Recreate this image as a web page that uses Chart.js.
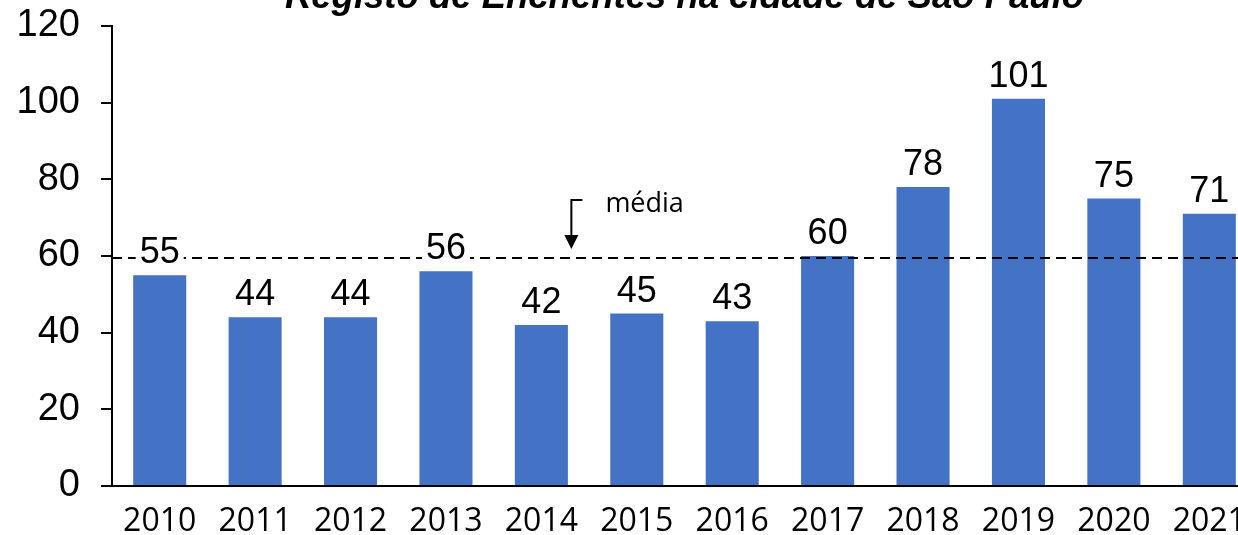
<!DOCTYPE html>
<html>
<head>
<meta charset="utf-8">
<script src="https://cdn.jsdelivr.net/npm/chart.js@4/dist/chart.umd.min.js"></script>
<style>
  html, body { margin: 0; padding: 0; background: #fff; overflow: hidden; }
  #wrap { width: 1260px; height: 535px; position: relative; }
</style>
</head>
<body>
<div id="wrap"><canvas id="canvasOne"></canvas></div>
<script>
// dados
var anos = ['2010', '2011', '2012', '2013', '2014', '2015', '2016', '2017', '2018', '2019', '2020', '2021'];
var enchentes = [55, 44, 44, 56, 42, 45, 43, 60, 78, 101, 75, 71];
var yTicks = [0, 20, 40, 60, 80, 100, 120];
var titulo = 'Registo de Enchentes na cidade de São Paulo';
var rotuloMedia = 'média';

var media = enchentes.reduce(function(a, b) { return a + b; }, 0) / enchentes.length;

var extras = {
    id: 'extras',
    afterDatasetsDraw: function(chart) {
        var ctx = chart.ctx;
        var x = chart.scales.x, y = chart.scales.y;
        var area = chart.chartArea;
        ctx.save();

        // linha da media (por cima das barras)
        var ym = y.getPixelForValue(media);
        ctx.strokeStyle = '#000';
        ctx.fillStyle = '#000';
        ctx.lineWidth = 2;
        ctx.setLineDash([10, 6]);
        ctx.beginPath();
        ctx.moveTo(area.left, ym);
        ctx.lineTo(chart.width, ym);
        ctx.stroke();
        ctx.setLineDash([]);

        // valores em cima das barras, com fundo branco
        ctx.font = '36px "Liberation Sans", Arial, sans-serif';
        ctx.textAlign = 'center';
        ctx.textBaseline = 'alphabetic';
        chart.getDatasetMeta(0).data.forEach(function(bar, i) {
            var txt = String(enchentes[i]);
            var w = ctx.measureText(txt).width;
            var base = bar.y - 12;
            ctx.fillStyle = '#fff';
            ctx.fillRect(bar.x - w / 2 - 4, base - 30, w + 8, 35);
            ctx.fillStyle = '#000';
            ctx.fillText(txt, bar.x, base);
        });

        // seta + texto "média"
        var xa = x.getPixelForValue(4) + 30;
        ctx.beginPath();
        ctx.moveTo(xa + 11, ym - 58);
        ctx.lineTo(xa, ym - 58);
        ctx.lineTo(xa, ym - 22);
        ctx.stroke();
        ctx.beginPath();
        ctx.moveTo(xa - 7, ym - 23);
        ctx.lineTo(xa + 7, ym - 23);
        ctx.lineTo(xa, ym - 9);
        ctx.closePath();
        ctx.fill();
        ctx.font = '27px "Open Sans", sans-serif';
        ctx.textAlign = 'left';
        ctx.fillText(rotuloMedia, xa + 34, ym - 46);

        // titulo (cortado no topo)
        ctx.font = 'italic bold 36.5px "Liberation Sans", Arial, sans-serif';
        ctx.textAlign = 'center';
        ctx.fillText(titulo, (area.left + area.right) / 2, 8);
        ctx.restore();
    }
};

var ctx = document.getElementById('canvasOne').getContext('2d');
var config = {
    type: 'bar',
    data: {
        labels: anos,
        datasets: [{
            label: 'Enchentes',
            data: enchentes,
            backgroundColor: '#4472C4',
            categoryPercentage: 1,
            barPercentage: 0.556
        }]
    },
    options: {
        responsive: true,
        maintainAspectRatio: false,
        animation: false,
        layout: { padding: { top: 26, right: 3, left: 0, bottom: 0 } },
        plugins: {
            legend: { display: false },
            tooltip: { enabled: false }
        },
        scales: {
            x: {
                grid: { drawOnChartArea: false, drawTicks: false },
                border: { color: '#000', width: 2 },
                ticks: {
                    color: '#000',
                    padding: 17,
                    font: { family: '"Open Sans", sans-serif', size: 32 }
                },
                afterFit: function(s) {
                    s.height = 49;
                    s.paddingLeft = 0;
                    s.paddingRight = 0;
                }
            },
            y: {
                min: 0,
                max: 120,
                afterBuildTicks: function(s) {
                    s.ticks = yTicks.map(function(v) { return { value: v }; });
                },
                grid: { drawOnChartArea: false, drawTicks: true, tickLength: 11, color: '#000', lineWidth: 2 },
                border: { color: '#000', width: 2 },
                ticks: {
                    color: '#000',
                    padding: 21,
                    font: { family: '"Liberation Sans", Arial, sans-serif', size: 38 }
                },
                afterFit: function(s) {
                    s.width = 112;
                    s.paddingTop = 0;
                    s.paddingBottom = 0;
                }
            }
        }
    },
    plugins: [extras]
};

var chart = new Chart(ctx, config);
</script>
</body>
</html>
